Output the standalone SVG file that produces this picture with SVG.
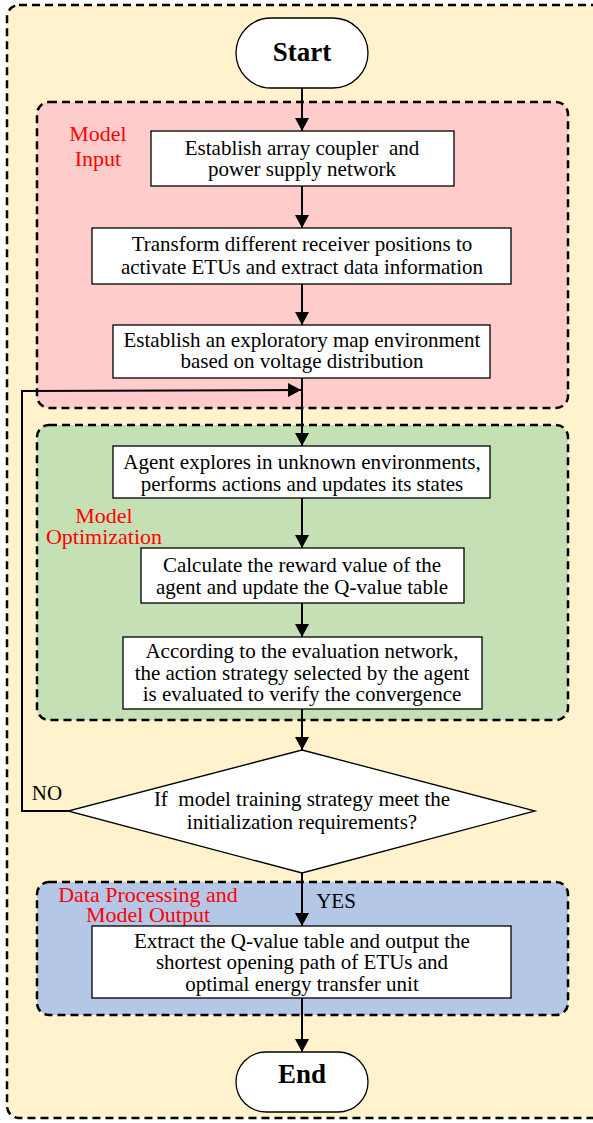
<svg xmlns="http://www.w3.org/2000/svg" width="593" height="1123" viewBox="0 0 593 1123">
<defs>
<marker id="arr" markerWidth="13" markerHeight="14" refX="13" refY="7" orient="auto" markerUnits="userSpaceOnUse">
<path d="M0,0 L13,7 L0,14 Z" fill="#000"/>
</marker>
<style>
.t{font-family:"Liberation Serif","Times New Roman",serif;font-size:21px;fill:#000;text-anchor:middle;white-space:pre}
.b{font-family:"Liberation Serif","Times New Roman",serif;font-size:27px;font-weight:bold;fill:#000;text-anchor:middle}
.r{font-family:"Liberation Serif","Times New Roman",serif;font-size:22px;fill:#ff0000;text-anchor:middle}
.box{fill:#fff;stroke:#000;stroke-width:1.3}
.grp{stroke:#000;stroke-width:2.5;stroke-dasharray:8,5}
.c{fill:none;stroke:#000;stroke-width:2}
</style>
</defs>
<rect x="7" y="5" width="600" height="1113" rx="12" fill="#fff2cc" class="grp"/>
<g id="model-input">
<rect x="37" y="102" width="531" height="306" rx="12" fill="#ffcccc" class="grp"/>
<text class="r" x="98" y="141">Model</text>
<text class="r" x="98" y="166">Input</text>
</g>
<g id="model-optimization">
<rect x="37" y="425" width="531" height="295" rx="12" fill="#c5e0b4" class="grp"/>
<text class="r" x="104" y="523">Model</text>
<text class="r" x="104" y="544">Optimization</text>
</g>
<g id="data-processing">
<rect x="37" y="882" width="531" height="133" rx="12" fill="#b4c7e7" class="grp"/>
<text class="r" x="148" y="902">Data Processing and</text>
<text class="r" x="148" y="922">Model Output</text>
</g>
<g id="connectors">
<line class="c" x1="302" y1="88" x2="302" y2="131" marker-end="url(#arr)"/>
<line class="c" x1="302" y1="186" x2="302" y2="228" marker-end="url(#arr)"/>
<line class="c" x1="302" y1="284" x2="302" y2="325" marker-end="url(#arr)"/>
<line class="c" x1="302" y1="378" x2="302" y2="446" marker-end="url(#arr)"/>
<line class="c" x1="302" y1="498" x2="302" y2="548" marker-end="url(#arr)"/>
<line class="c" x1="302" y1="603" x2="302" y2="637" marker-end="url(#arr)"/>
<line class="c" x1="302" y1="709" x2="302" y2="750" marker-end="url(#arr)"/>
<line class="c" x1="302" y1="873" x2="302" y2="926" marker-end="url(#arr)"/>
<line class="c" x1="302" y1="998" x2="302" y2="1052" marker-end="url(#arr)"/>
<polyline class="c" points="68,811 22,811 22,391 301,390" marker-end="url(#arr)"/>
<text class="t" x="47" y="800">NO</text>
<text class="t" x="336" y="908">YES</text>
</g>
<g id="start">
<rect x="236" y="18" width="132" height="70" rx="35" class="box"/>
<text class="b" x="302" y="61">Start</text>
</g>
<g id="step1">
<rect x="151" y="131" width="303" height="55" class="box"/>
<text class="t" x="302" y="155">Establish array coupler  and</text>
<text class="t" x="302" y="176">power supply network</text>
</g>
<g id="step2">
<rect x="92" y="228" width="419" height="56" class="box"/>
<text class="t" x="302" y="251">Transform different receiver positions to</text>
<text class="t" x="302" y="274">activate ETUs and extract data information</text>
</g>
<g id="step3">
<rect x="113" y="325" width="377" height="53" class="box"/>
<text class="t" x="302" y="347">Establish an exploratory map environment</text>
<text class="t" x="302" y="368">based on voltage distribution</text>
</g>
<g id="step4">
<rect x="113" y="446" width="377" height="52" class="box"/>
<text class="t" x="302" y="469">Agent explores in unknown environments,</text>
<text class="t" x="302" y="491">performs actions and updates its states</text>
</g>
<g id="step5">
<rect x="141" y="548" width="323" height="55" class="box"/>
<text class="t" x="302" y="572">Calculate the reward value of the</text>
<text class="t" x="302" y="594">agent and update the Q-value table</text>
</g>
<g id="step6">
<rect x="123" y="637" width="359" height="72" class="box"/>
<text class="t" x="302" y="658">According to the evaluation network,</text>
<text class="t" x="302" y="680">the action strategy selected by the agent</text>
<text class="t" x="302" y="701">is evaluated to verify the convergence</text>
</g>
<g id="decision">
<polygon points="302,750 535,811 302,873 68,811" class="box" stroke-width="2"/>
<text class="t" x="302" y="806">If  model training strategy meet the</text>
<text class="t" x="302" y="829">initialization requirements?</text>
</g>
<g id="step7">
<rect x="92" y="926" width="419" height="72" class="box"/>
<text class="t" x="302" y="948">Extract the Q-value table and output the</text>
<text class="t" x="302" y="969">shortest opening path of ETUs and</text>
<text class="t" x="302" y="991">optimal energy transfer unit</text>
</g>
<g id="end">
<rect x="236" y="1052" width="132" height="60" rx="30" class="box"/>
<text class="b" x="302" y="1083">End</text>
</g>
</svg>
